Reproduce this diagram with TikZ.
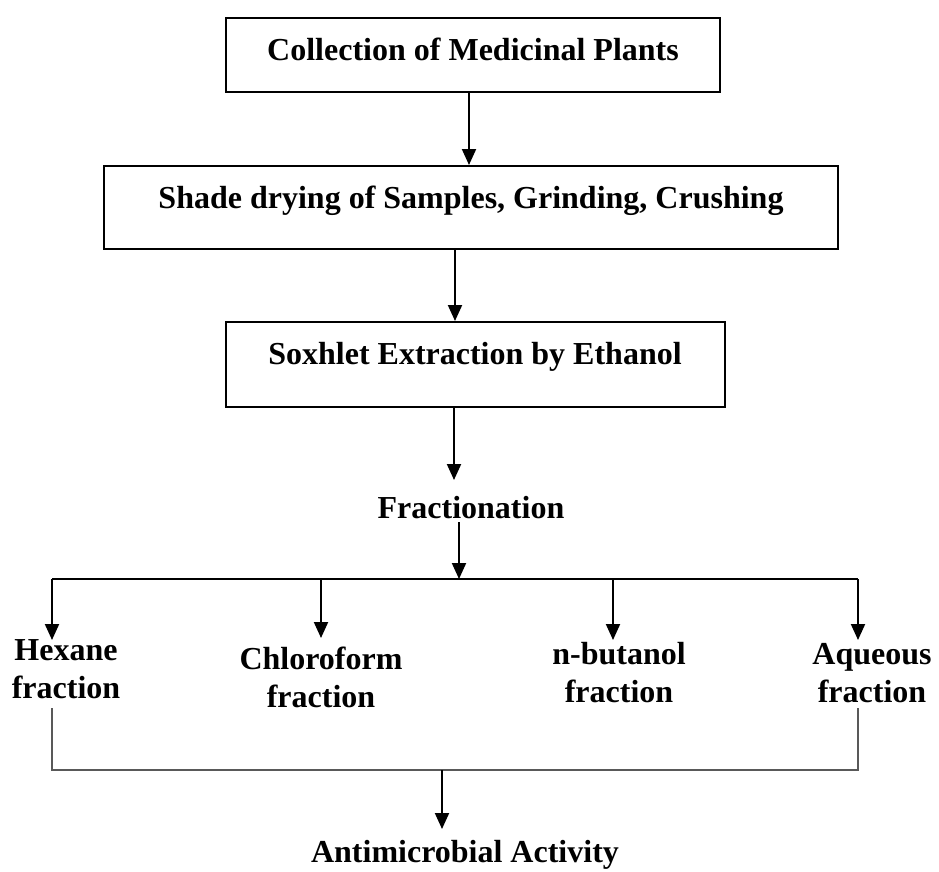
\documentclass[tikz,border=0pt]{standalone}
\usepackage{fontspec}
\setmainfont{Liberation Serif}
\usetikzlibrary{arrows.meta,calc}
\begin{document}
\begin{tikzpicture}[x=1pt,y=-1pt,
  font=\fontsize{32}{38}\selectfont\bfseries,
  stepbox/.style={draw, line width=2pt, inner sep=0pt},
  lbl/.style={anchor=base, inner sep=0pt, align=center},
  arr/.style={line width=2pt, -{Triangle[width=14pt,length=16pt]}},
  thinline/.style={line width=1.2pt, draw=black!65}]
\useasboundingbox (0,0) rectangle (939,871);
% boxes
\node[stepbox, minimum width=494pt, minimum height=74pt] (b1) at (473,55) {};
\node[stepbox, minimum width=734pt, minimum height=83pt] (b2) at (471,207.5) {};
\node[stepbox, minimum width=499pt, minimum height=85pt] (b3) at (475.5,364.5) {};
\node[lbl] (t1) at (473,60) {Collection of Medicinal Plants};
\node[lbl] (t2) at (471,208) {Shade drying of Samples, Grinding, Crushing};
\node[lbl] (t3) at (475,364) {Soxhlet Extraction by Ethanol};
\node[lbl] (frac) at (471,518) {Fractionation};
\node[lbl] (hex) at (66,698) {Hexane\\fraction};
\node[lbl] (chl) at (321,707) {Chloroform\\fraction};
\node[lbl] (but) at (619,702) {n-butanol\\fraction};
\node[lbl] (aq) at (872,702) {Aqueous\\fraction};
\node[lbl] (anti) at (465,862) {Antimicrobial Activity};
% coordinates
\coordinate (x1) at (469,0);
\coordinate (x2) at (455,0);
\coordinate (tf) at (454,480);
\coordinate (ff) at (459,522);
\coordinate (jf) at (459,579);
\coordinate (hl) at (52,579);
\coordinate (hr) at (858,579);
\coordinate (c2) at (321,579);
\coordinate (c3) at (613,579);
\coordinate (th) at (52,640);
\coordinate (tc) at (321,638);
\coordinate (tb) at (613,640);
\coordinate (ta) at (858,640);
\coordinate (ll) at (52,708);
\coordinate (lr) at (858,708);
\coordinate (bl) at (52,770);
\coordinate (br) at (858,770);
\coordinate (ja) at (442,770);
\coordinate (tanti) at (442,829);
% connectors
\draw[arr] (b1.south -| x1) -- (b2.north -| x1);
\draw[arr] (b2.south -| x2) -- (b3.north -| x2);
\draw[arr] (b3.south -| tf) -- (tf);
\draw[arr] (ff) -- (jf);
\draw[line width=2pt] (hl) -- (hr);
\draw[arr] (hl) -- (th);
\draw[arr] (c2) -- (tc);
\draw[arr] (c3) -- (tb);
\draw[arr] (hr) -- (ta);
\draw[thinline] (ll) -- (bl) -- (br) -- (lr);
\draw[arr] (ja) -- (tanti);
\end{tikzpicture}
\end{document}
